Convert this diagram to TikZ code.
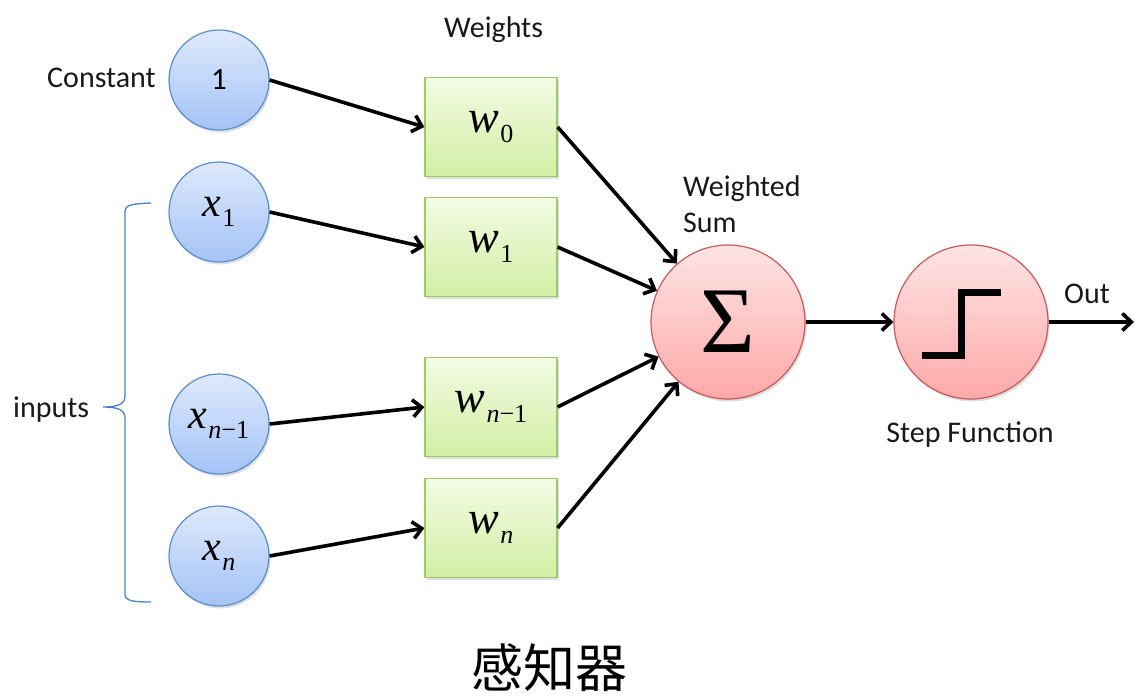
\documentclass[tikz,border=0pt]{standalone}
\usepackage{fontspec}
\setmainfont{Carlito}
\newfontfamily\serifmath{Liberation Serif}
\newfontfamily\cjk{Noto Sans CJK SC}
\usetikzlibrary{arrows.meta,shadows}

\definecolor{inTop}{HTML}{DEE9FC}
\definecolor{inBot}{HTML}{A3C3F6}
\definecolor{inLine}{HTML}{5B8DCB}
\definecolor{wTop}{HTML}{F2FBE3}
\definecolor{wBot}{HTML}{D2EEA4}
\definecolor{wLine}{HTML}{9DC96B}
\definecolor{sTop}{HTML}{FEE4E4}
\definecolor{sBot}{HTML}{FFA8A8}
\definecolor{sLine}{HTML}{C55B58}
\definecolor{braceBlue}{HTML}{4F81BD}

% italic variable with a lowered subscript
\newcommand{\mysym}[3]{{\serifmath\fontsize{#1}{#1}\selectfont\itshape #2}\hspace{1pt}\raisebox{-10pt}{\serifmath\fontsize{26}{26}\selectfont #3}}

\begin{document}
\begin{tikzpicture}[x=1pt,y=1pt,
  lbl/.style={font=\fontsize{30}{36}\selectfont, inner sep=0pt, text=black!90},
  inputnode/.style={circle, minimum size=100pt, inner sep=0pt, draw=inLine, line width=1.2pt,
    top color=inTop, bottom color=inBot,
    drop shadow={shadow xshift=1.5pt, shadow yshift=-2.5pt, opacity=0.25}},
  weightnode/.style={rectangle, minimum width=132pt, minimum height=99pt, inner sep=0pt,
    draw=wLine, line width=1.2pt, top color=wTop, bottom color=wBot,
    drop shadow={shadow xshift=1.5pt, shadow yshift=-2.5pt, opacity=0.25}},
  sumnode/.style={circle, minimum size=154pt, inner sep=0pt, draw=sLine, line width=1.2pt,
    top color=sTop, bottom color=sBot,
    drop shadow={shadow xshift=1.5pt, shadow yshift=-2.5pt, opacity=0.25}},
  conn/.style={line width=3.6pt, -{Straight Barb[length=9pt,width=17pt,line width=3.6pt]}}
]
\useasboundingbox (0,0) rectangle (1135,-696);

% input circles
\node[inputnode] (c1) at (219,-80)  {\fontsize{31}{31}\selectfont 1};
\node[inputnode] (x1) at (219,-212) {\mysym{42}{x}{1}};
\node[inputnode] (xm) at (219,-424) {\mysym{42}{x}{\itshape n\upshape −1}};
\node[inputnode] (xn) at (219,-556) {\mysym{42}{x}{\itshape n}};

% weight boxes
\node[weightnode] (w0) at (491,-127) {\mysym{46}{w}{0}};
\node[weightnode] (w1) at (491,-247) {\mysym{46}{w}{1}};
\node[weightnode] (wm) at (491,-407) {\mysym{46}{w}{\itshape n\upshape −1}};
\node[weightnode] (wn) at (491,-528) {\mysym{46}{w}{\itshape n}};

% summation and step function
\node[sumnode] (sum) at (728,-322) {\serifmath\fontsize{94}{94}\selectfont Σ};
\node[sumnode] (step) at (971,-322) {};
\draw[line width=7pt] ([shift={(-49,-33)}]step.center) -- ++(39,0) -- ++(0,63) -- ++(40,0);
\coordinate (out) at (1134,-322);

% labels
\node[lbl, anchor=base west] (tc) at (47,-87) {Constant};
\node[lbl, anchor=base west] (tw) at (444,-37) {Weights};
\node[lbl, anchor=base west, align=left] (ts) at (683,-232) {Weighted\\Sum};
\node[lbl, anchor=base west] (to) at (1064,-303) {Out};
\node[lbl, anchor=base] (tf) at (970,-442) {Step Function};
\node[lbl, anchor=base west] (ti) at (13,-417) {inputs};
\node[inner sep=0pt, font=\cjk\fontsize{52}{52}\selectfont] (title) at (549,-668) {感知器};

% brace grouping the inputs
\draw[braceBlue, line width=1.3pt]
  (151,-203) .. controls (133,-204) and (125,-204) .. (125,-212)
  -- (125,-396) .. controls (125,-404) and (118,-407) .. (103,-407)
  .. controls (118,-407) and (125,-410) .. (125,-418)
  -- (125,-594) .. controls (125,-601) and (133,-602) .. (151,-602);

% connections
\draw[conn] (c1.east) -- (w0.west);
\draw[conn] (x1.east) -- (w1.west);
\draw[conn] (xm.east) -- (wm.west);
\draw[conn] (xn.east) -- (wn.west);
\draw[conn] (w0.east) -- (sum);
\draw[conn] (w1.east) -- (sum);
\draw[conn] (wm.east) -- (sum);
\draw[conn] (wn.east) -- (sum);
\draw[conn] (sum) -- (step);
\draw[conn] (step) -- (out);
\end{tikzpicture}
\end{document}
